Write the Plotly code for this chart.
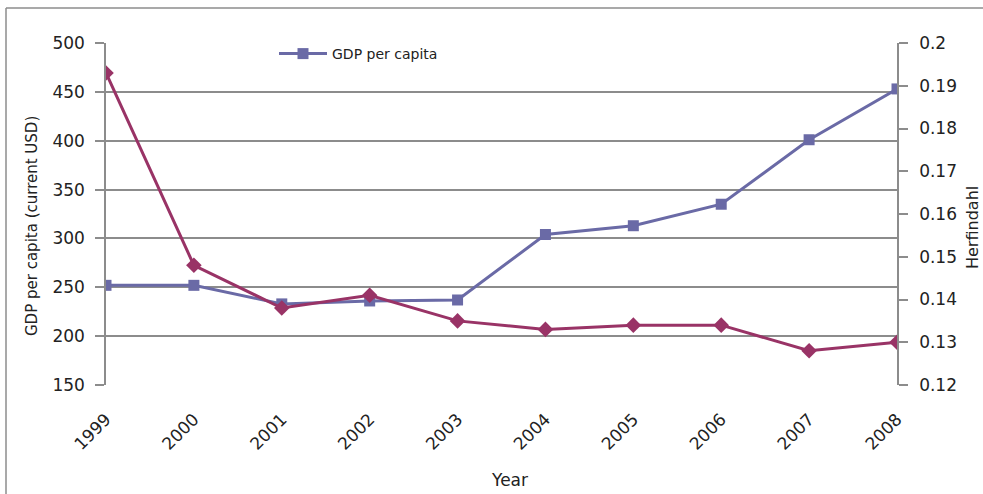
import plotly.graph_objects as go

# Data
years = [1999, 2000, 2001, 2002, 2003, 2004, 2005, 2006, 2007, 2008]
gdp_per_capita = [252, 252, 233, 236, 237, 304, 313, 335, 401, 453]
herfindahl = [0.193, 0.148, 0.138, 0.141, 0.135, 0.133, 0.134, 0.134, 0.128, 0.130]

gdp_color = "#6A6AA6"
hhi_color = "#993366"
grid_color = "#8C8C8C"
font_family = "DejaVu Sans"

fig = go.Figure()

fig.add_trace(go.Scatter(
    x=years, y=gdp_per_capita, name="GDP per capita",
    mode="lines+markers",
    line=dict(color=gdp_color, width=3),
    marker=dict(symbol="square", size=11, color=gdp_color),
    yaxis="y",
))

fig.add_trace(go.Scatter(
    x=years, y=herfindahl, name="Herfindahl",
    mode="lines+markers",
    line=dict(color=hhi_color, width=3),
    marker=dict(symbol="diamond", size=12, color=hhi_color),
    yaxis="y2", showlegend=False,
))

W, H = 983, 494
ml, mr, mt, mb = 106, 86, 43, 109
pw, ph = W - ml - mr, H - mt - mb

def px_to_paper_x(px):
    return (px - ml) / pw

def px_to_paper_y(py):
    return (H - mb - py) / ph

title_font = dict(family=font_family, size=17, color="#222222")

fig.update_layout(
    width=W, height=H,
    margin=dict(l=ml, r=mr, t=mt, b=mb),
    paper_bgcolor="white", plot_bgcolor="white",
    font=dict(family=font_family, size=15, color="#222222"),
    xaxis=dict(
        range=[1999, 2008], tickmode="array", tickvals=years,
        ticktext=[str(y) for y in years],
        tickangle=-45, showgrid=False, zeroline=False,
        showline=False, ticks="", ticklabelstandoff=20,
        tickfont=dict(size=17),
    ),
    yaxis=dict(
        range=[150, 500], dtick=50, tick0=150,
        showgrid=True, gridcolor=grid_color, gridwidth=1.5,
        zeroline=False, showline=True, linecolor=grid_color, linewidth=1.5,
        ticks="outside", ticklen=9, tickcolor=grid_color, tickwidth=1.5,
        ticklabelstandoff=7, tickfont=dict(size=17),
    ),
    yaxis2=dict(
        range=[0.12, 0.2], dtick=0.01, tick0=0.12, overlaying="y", side="right",
        showgrid=False, zeroline=False, showline=True, linecolor=grid_color, linewidth=1.5,
        ticks="outside", ticklen=9, tickcolor=grid_color, tickwidth=1.5,
        ticklabelstandoff=8, tickfont=dict(size=17),
    ),
    legend=dict(
        x=px_to_paper_x(274), y=px_to_paper_y(38), xanchor="left", yanchor="top",
        bgcolor="rgba(0,0,0,0)", font=dict(size=14), itemwidth=48,
    ),
    annotations=[
        dict(text="Year", xref="paper", yref="paper",
             x=px_to_paper_x(509), y=px_to_paper_y(480),
             xanchor="center", yanchor="middle", showarrow=False, font=title_font),
        dict(text="GDP per capita (current USD)", xref="paper", yref="paper",
             x=px_to_paper_x(32), y=px_to_paper_y(226), textangle=-90,
             xanchor="center", yanchor="middle", showarrow=False,
             font=dict(family=font_family, size=15, color="#222222")),
        dict(text="Herfindahl", xref="paper", yref="paper",
             x=px_to_paper_x(972), y=px_to_paper_y(228), textangle=-90,
             xanchor="center", yanchor="middle", showarrow=False,
             font=dict(family=font_family, size=16, color="#222222")),
    ],
    shapes=[
        dict(type="line", xref="paper", yref="paper",
             x0=px_to_paper_x(6), x1=px_to_paper_x(990),
             y0=px_to_paper_y(8), y1=px_to_paper_y(8),
             line=dict(color="#8C8C8C", width=1.5)),
        dict(type="line", xref="paper", yref="paper",
             x0=px_to_paper_x(6), x1=px_to_paper_x(6),
             y0=px_to_paper_y(8), y1=px_to_paper_y(500),
             line=dict(color="#8C8C8C", width=1.5)),
    ],
)

fig.write_html("out.html")
